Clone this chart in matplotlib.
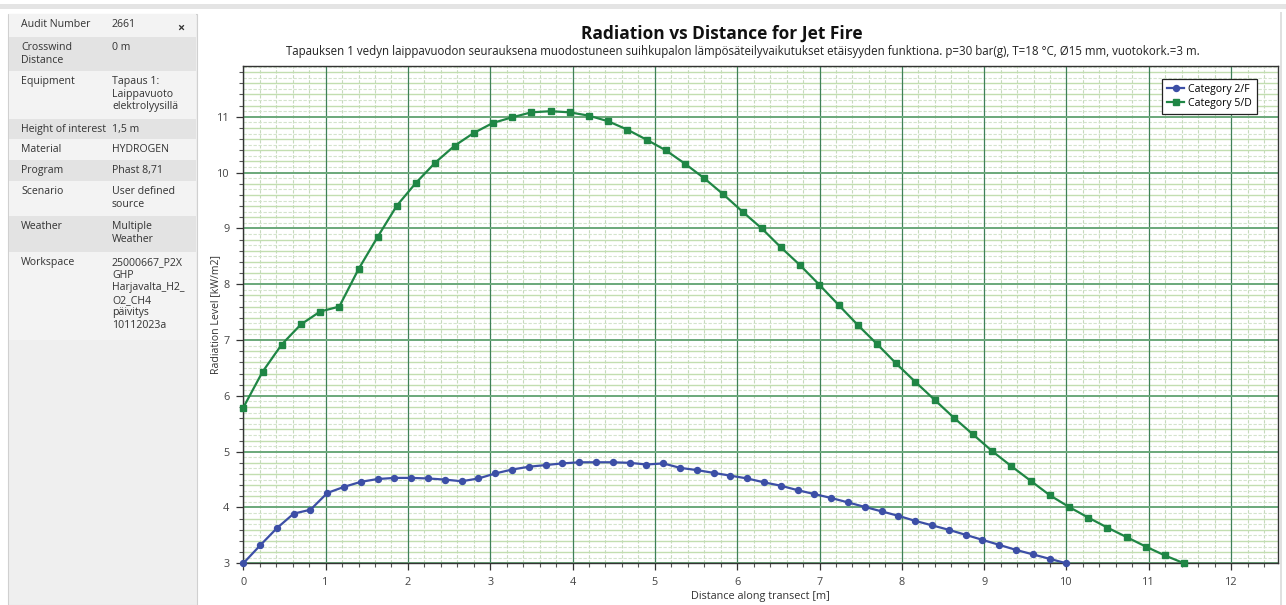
import matplotlib
matplotlib.use("Agg")
import matplotlib.pyplot as plt
from matplotlib.patches import Rectangle
import numpy as np

plt.rcParams['font.family'] = ['Open Sans', 'DejaVu Sans']

# ---------------- data ----------------
n_points = 50
cat2f_end = 10.0
cat5d_end = 11.43
cat2f_x = [i * cat2f_end / (n_points - 1) for i in range(n_points)]
cat5d_x = [i * cat5d_end / (n_points - 1) for i in range(n_points)]

cat2f_y = [3.00, 3.32, 3.63, 3.89, 3.96, 4.26, 4.37, 4.46, 4.51, 4.53,
           4.53, 4.52, 4.50, 4.47, 4.52, 4.61, 4.68, 4.73, 4.76, 4.79,
           4.81, 4.81, 4.81, 4.80, 4.77, 4.79, 4.71, 4.67, 4.62, 4.57,
           4.52, 4.45, 4.39, 4.31, 4.24, 4.17, 4.09, 4.01, 3.93, 3.85,
           3.76, 3.68, 3.60, 3.51, 3.42, 3.33, 3.24, 3.16, 3.08, 3.00]

cat5d_y = [5.79, 6.43, 6.92, 7.28, 7.51, 7.60, 8.27, 8.85, 9.41, 9.82,
           10.18, 10.48, 10.71, 10.89, 10.99, 11.08, 11.10, 11.08, 11.02, 10.92,
           10.77, 10.59, 10.40, 10.16, 9.90, 9.61, 9.30, 9.00, 8.66, 8.34,
           7.99, 7.63, 7.27, 6.93, 6.58, 6.25, 5.93, 5.61, 5.31, 5.01,
           4.74, 4.48, 4.22, 4.01, 3.82, 3.64, 3.47, 3.30, 3.14, 3.00]

series_names = ["Category 2/F", "Category 5/D"]
x_ticks = list(range(0, 13))
y_ticks = list(range(3, 12))

title = "Radiation vs Distance for Jet Fire"
subtitle = ("Tapauksen 1 vedyn laippavuodon seurauksena muodostuneen suihkupalon "
            "lämpösäteilyvaikutukset etäisyyden funktiona. p=30 bar(g), T=18 °C, "
            "Ø15 mm, vuotokork.=3 m.")
x_label = "Distance along transect [m]"
y_label = "Radiation Level [kW/m2]"

info_keys = ["Audit Number", "Crosswind\nDistance", "Equipment", "Height of interest",
             "Material", "Program", "Scenario", "Weather", "Workspace"]
info_vals = ["2661", "0 m", "Tapaus 1:\nLaippavuoto\nelektrolyysillä", "1,5 m",
             "HYDROGEN", "Phast 8,71", "User defined\nsource", "Multiple\nWeather",
             "25000667_P2X\nGHP\nHarjavalta_H2_\nO2_CH4\npäivitys\n10112023a"]

# ---------------- figure ----------------
W, H = 1286, 605
fig = plt.figure(figsize=(W / 100, H / 100), dpi=100)
fig.patch.set_facecolor('white')

def fx(px):
    return px / W

def fy(py):
    return 1 - py / H

# top strip and right border
fig.patches.append(Rectangle((0, fy(9)), 1, 5 / H, transform=fig.transFigure,
                             facecolor='#e4e4e4', edgecolor='none', zorder=0))
fig.patches.append(Rectangle((fx(1280), 0), 2 / W, fy(12), transform=fig.transFigure,
                             facecolor='#e0e0e0', edgecolor='none', zorder=0))

# left info panel
fig.patches.append(Rectangle((fx(8), 0), (197 - 8) / W, fy(14), transform=fig.transFigure,
                             facecolor='#efefef', edgecolor='#d0d0d0', lw=0.8, zorder=0))
row_tops = [14, 37, 71, 119, 139, 160, 181, 216, 252]
row_bots = [37, 71, 119, 139, 160, 181, 216, 252, 340]
for i, (t, b) in enumerate(zip(row_tops, row_bots)):
    col = '#e3e3e3' if i % 2 == 1 else '#f3f3f3'
    fig.patches.append(Rectangle((fx(9), fy(b)), (196 - 9) / W, (b - t) / H,
                                 transform=fig.transFigure, facecolor=col,
                                 edgecolor='none', zorder=0))
for i, (k, v) in enumerate(zip(info_keys, info_vals)):
    ty = row_tops[i] + 5
    fig.text(fx(21), fy(ty), k, ha='left', va='top', fontsize=7.6,
             color='#333333', linespacing=1.2)
    fig.text(fx(112), fy(ty), v, ha='left', va='top', fontsize=7.6,
             color='#333333', linespacing=1.2)
fig.text(fx(181), fy(28), "×", ha='center', va='center', fontsize=9,
         fontweight='bold', color='#333333')

# ---------------- axes ----------------
ax = fig.add_axes([fx(243.3), fy(563.3), fx(1278) - fx(243.3), fy(66) - fy(563.3)])
ax.set_xlim(0, 12.57)
ax.set_ylim(3, 11.91)

major_c = '#3f8058'
for v in np.arange(0.2, 12.6, 0.2):
    if abs(v - round(v)) > 1e-6:
        ax.axvline(v, color='#c6dabc', lw=0.8, ls=(0, (3, 1.5)), zorder=1)
for v in np.arange(3.1, 11.95, 0.1):
    if abs(v - round(v)) > 1e-6:
        k = int(round(v * 10)) % 2
        if k == 0:
            ax.axhline(v, color='#c2deb0', lw=1.0, ls='-', zorder=1)
        else:
            ax.axhline(v, color='#d4e4cc', lw=0.8, ls=(0, (3, 1.5)), zorder=1)
for v in x_ticks:
    ax.axvline(v, color=major_c, lw=0.9, zorder=2)
for v in y_ticks:
    ax.axhline(v, color='#6aa87a', lw=1.4, zorder=2)

ax.plot(cat2f_x, cat2f_y, color='#3c4fa6', lw=1.6, marker='o', markersize=4.3,
        label=series_names[0], zorder=5, clip_on=False)
ax.plot(cat5d_x, cat5d_y, color='#1f8645', lw=1.6, marker='s', markersize=4.3,
        label=series_names[1], zorder=5, clip_on=False)

ax.set_xticks(x_ticks)
ax.set_yticks(y_ticks)
ax.set_xticks(np.arange(0, 12.6, 0.2), minor=True)
ax.set_yticks(np.arange(3, 11.95, 0.2), minor=True)
ax.tick_params(axis='both', which='major', length=5, width=0.9, color='#333333',
               labelsize=7.8, labelcolor='#444444', pad=5)
ax.tick_params(axis='both', which='minor', length=3, width=0.8, color='#555555')
for s in ax.spines.values():
    s.set_color('#333333')
    s.set_linewidth(1.0)

ax.set_xlabel(x_label, fontsize=7.8, color='#333333', labelpad=2)
fig.text(fx(216), fy(315), y_label, rotation=90, ha='center', va='center',
         fontsize=7.6, color='#333333')

fig.text(fx(722), fy(34), title, ha='center', va='center', fontsize=12.5,
         fontweight='bold', color='#111111')
fig.text(fx(743), fy(52), subtitle, ha='center', va='center', fontsize=8.3,
         color='#222222')

leg = ax.legend(loc='upper right', fontsize=7.6, frameon=True, fancybox=False,
                edgecolor='#222222', framealpha=1, handlelength=1.6,
                borderpad=0.5, labelspacing=0.3, handletextpad=0.4,
                bbox_to_anchor=(0.985, 0.985))
leg.get_frame().set_linewidth(0.9)

fig.savefig("out.png", dpi=100, facecolor='white')
